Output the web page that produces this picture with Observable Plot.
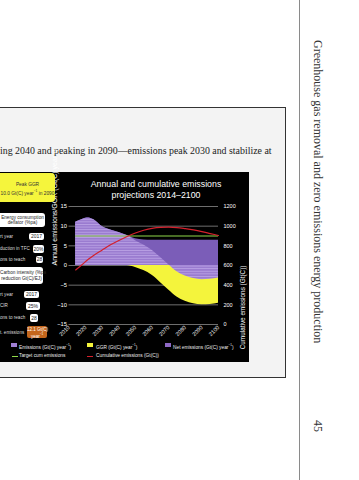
<!DOCTYPE html>
<html><head><meta charset="utf-8">
<script src="https://cdn.jsdelivr.net/npm/d3@7"></script>
<script src="https://cdn.jsdelivr.net/npm/@observablehq/plot@0.6"></script>
<style>
html,body{margin:0;padding:0;background:#fff;width:359px;height:480px;overflow:hidden;position:relative;font-family:"Liberation Sans",Arial,sans-serif}
.a{position:absolute;white-space:nowrap}
#gray{left:-5px;top:107px;width:291px;height:271px;background:#f3f3f3;border:1.5px solid #333;box-sizing:border-box}
#vline{left:299px;top:0;width:1px;height:480px;background:#8a8a8a}
#body{left:0;top:145px;font-family:"Liberation Serif","Times New Roman",serif;font-size:9.9px;line-height:12px;color:#222}
#black{left:0;top:172px;width:249px;height:190px;background:#000}
#chart{left:0;top:172px}
.title{left:56px;width:200px;text-align:center;color:#fff;font-size:8.8px;line-height:11px}
.lab{color:#ddd;font-size:4.6px;line-height:6px;left:0}
.box{background:#fff;color:#222;border-radius:2px;text-align:center;font-size:5px;box-sizing:border-box}
.leg{color:#eee;font-size:4.8px;line-height:6px}
.head{font-family:"Liberation Serif","Times New Roman",serif;font-size:12px;line-height:12px;color:#333;transform:rotate(90deg);transform-origin:0 0}
</style></head>
<body>
<div id="gray" class="a"></div>
<div id="vline" class="a"></div>
<div id="body" class="a">ing 2040 and peaking in 2090—emissions peak 2030 and stabilize at</div>
<div id="black" class="a"></div>
<div id="chart" class="a"></div>
<div class="a title" style="top:179px">Annual and cumulative emissions</div>
<div class="a title" style="top:190px">projections 2014–2100</div>

<div class="a" style="left:0;top:173px;width:55px;height:29px;background:#f5f53c;border-radius:0 4px 4px 0;color:#333;font-size:4.8px;line-height:7px;text-align:center;padding-top:8px;box-sizing:border-box">Peak GGR<br>10.0 Gt(C) year<sup style="font-size:3.2px">−1</sup> in 2090</div>

<div class="a box" style="left:0;top:213px;width:45px;height:14px;line-height:5.6px;padding-top:1.5px;border-radius:0 3px 3px 0;font-size:4.7px">Energy consumption<br>deflator (%pa)</div>
<div class="a lab" style="top:234px">rt year</div>
<div class="a box" style="left:29px;top:233px;width:15px;height:7px;line-height:7px">2017</div>
<div class="a lab" style="top:246px">duction in TFC</div>
<div class="a box" style="left:33px;top:245px;width:11px;height:8px;line-height:8px">20%</div>
<div class="a lab" style="top:256.5px">ons to reach</div>
<div class="a box" style="left:36px;top:256px;width:7px;height:7px;line-height:7px">28</div>

<div class="a box" style="left:0;top:267px;width:43px;height:17px;line-height:6px;padding-top:2.5px;border-radius:0 3px 3px 0;font-size:4.7px">Carbon intensity (%pa<br>reduction Gt(C)/EJ)</div>
<div class="a lab" style="top:292px">rt year</div>
<div class="a box" style="left:24px;top:291px;width:15px;height:7px;line-height:7px">2017</div>
<div class="a lab" style="top:303px">CIR</div>
<div class="a box" style="left:26px;top:302px;width:14px;height:8px;line-height:8px">25%</div>
<div class="a lab" style="top:315px">ons to reach</div>
<div class="a box" style="left:30px;top:314px;width:8px;height:8px;line-height:8px">28</div>
<div class="a lab" style="top:330px">t. emissions</div>
<div class="a" style="left:27px;top:326px;width:20px;height:12px;background:#c4661c;border-radius:2px;color:#fff;font-size:4.5px;line-height:5px;text-align:center;padding-top:1px;box-sizing:border-box">12.1 Gt(C)<br>year<sup style="font-size:3px">−1</sup></div>

<div class="a" style="left:11px;top:343px;width:6px;height:4px;background:#9f80d4"></div>
<div class="a leg" style="left:19px;top:342px">Emissions (Gt(C) year<sup style="font-size:3px">−1</sup>)</div>
<div class="a" style="left:87px;top:343px;width:6px;height:4px;background:#f4f43c"></div>
<div class="a leg" style="left:96px;top:342px">GGR (Gt(C) year<sup style="font-size:3px">−1</sup>)</div>
<div class="a" style="left:165px;top:343px;width:6px;height:4px;background:#8e68c4"></div>
<div class="a leg" style="left:173px;top:342px">Net emissions (Gt(C) year<sup style="font-size:3px">−1</sup>)</div>
<div class="a" style="left:12px;top:355.5px;width:6px;height:1.5px;background:#8fd84a"></div>
<div class="a leg" style="left:19px;top:353px">Target cum emissions</div>
<div class="a" style="left:87px;top:355.5px;width:6px;height:1.5px;background:#d4202c"></div>
<div class="a leg" style="left:96px;top:353px">Cumulative emissions (Gt(C))</div>

<div class="a head" style="left:324px;top:40px">Greenhouse gas removal and zero emissions energy production</div>
<div class="a head" style="left:324px;top:420px">45</div>

<script>
const years      = [2014, 2018, 2020, 2022, 2025, 2030, 2035, 2040, 2045, 2050, 2055, 2060, 2065, 2070, 2075, 2080, 2085, 2090, 2095, 2100];
const emissions  = [11.0, 11.7, 12.0, 12.1, 11.6, 9.9, 9.0, 8.4, 7.6, 6.8, 6.5, 6.4, 6.4, 6.4, 6.4, 6.4, 6.4, 6.4, 6.4, 6.4];
const ggr        = [0, 0, 0, 0, 0, 0, 0, 0, 0, 0.5, 1.3, 2.5, 4.3, 6.2, 8.0, 9.1, 9.7, 10.0, 9.9, 9.6];
const cumulative = [555, 610, 640, 668, 705, 758, 810, 855, 895, 930, 958, 978, 988, 990, 986, 975, 962, 945, 925, 905];
const targetCum  = 900;
const yTicks     = [-15, -10, -5, 0, 5, 10, 15];
const cumTicks   = [0, 200, 400, 600, 800, 1000, 1200];
const xTicks     = [2010, 2020, 2030, 2040, 2050, 2060, 2070, 2080, 2090, 2100];

const rows = years.map((y, i) => ({year: y, e: emissions[i], g: ggr[i], net: emissions[i] - ggr[i], cum: cumulative[i]}));
const toLeft = c => c / 40 - 15;

const plot = Plot.plot({
  width: 249, height: 190,
  marginLeft: 68.5, marginRight: 31, marginTop: 34, marginBottom: 38,
  style: {background: "transparent", color: "#fff", fontFamily: "Liberation Sans, Arial, sans-serif", fontSize: "5.8px", overflow: "visible"},
  x: {domain: [2010, 2100]},
  y: {domain: [-15, 15]},
  marks: [
    Plot.gridY(yTicks, {stroke: "#8a8a8a", strokeOpacity: 1, strokeWidth: 0.8}),
    Plot.areaY(rows, {x: "year", y1: 0, y2: "e", fill: "#7b5db8", curve: "monotone-x"}),
    Plot.areaY(rows, {x: "year", y1: 0, y2: d => -d.g, fill: "#f4f43c", curve: "monotone-x"}),
    Plot.areaY(rows, {x: "year", y1: 0, y2: "net", fill: "url(#stripes)", curve: "monotone-x"}),
    Plot.ruleY([toLeft(targetCum)], {x1: 2014, x2: 2100, stroke: "#8fd84a", strokeWidth: 1.2}),
    Plot.lineY(rows, {x: "year", y: d => toLeft(d.cum), stroke: "#d4202c", strokeWidth: 1.2, curve: "monotone-x"}),
    Plot.axisY(yTicks, {anchor: "left", tickSize: 0, tickPadding: 2, label: null, fill: "#fff"}),
    Plot.axisY(yTicks, {anchor: "right", tickSize: 0, tickPadding: 5, label: null, fill: "#fff", fontSize: 5.5, tickFormat: v => String(cumTicks[yTicks.indexOf(v)])}),
    Plot.axisX(xTicks, {anchor: "bottom", tickSize: 0, tickPadding: 2, tickRotate: -45, label: null, fill: "#fff", fontSize: 5.5, tickFormat: d => String(d)}),
    Plot.text(["Annual emissions/GGR (Gt(C) year⁻¹)"], {frameAnchor: "left", rotate: -90, dx: -14.5, fill: "#fff", fontSize: 7}),
    Plot.text(["Cumulative emissions (Gt(C))"], {frameAnchor: "right", rotate: -90, dx: 24, fill: "#fff", fontSize: 6.4})
  ]
});
const defs = document.createElementNS("http://www.w3.org/2000/svg", "defs");
defs.innerHTML = '<pattern id="stripes" width="4" height="2.6" patternUnits="userSpaceOnUse"><rect width="4" height="2.6" fill="#9a7bd0"/><rect width="4" height="0.9" fill="#b9a1e4"/></pattern>';
plot.insertBefore(defs, plot.firstChild);
document.getElementById("chart").appendChild(plot);
</script>
</body></html>
